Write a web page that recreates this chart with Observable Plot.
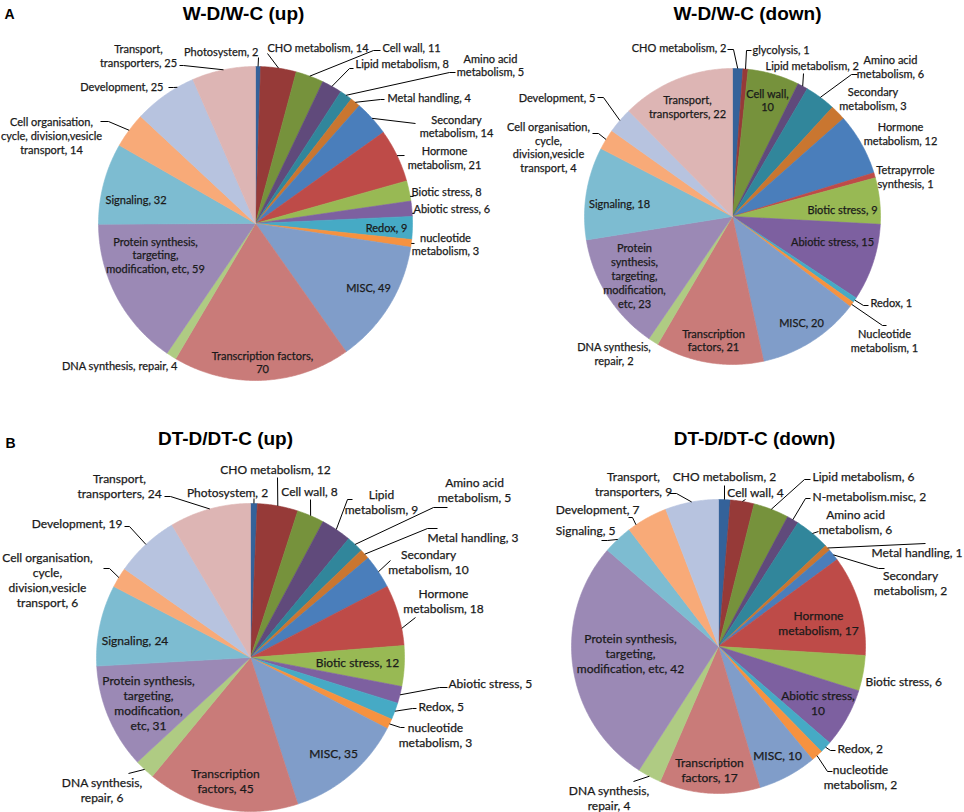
<!DOCTYPE html>
<html><head><meta charset="utf-8">
<script src="https://cdn.jsdelivr.net/npm/d3@7"></script>
<script src="https://cdn.jsdelivr.net/npm/@observablehq/plot@0.6"></script>
<style>
body{margin:0;background:#fff}
#fig{position:relative;width:964px;height:812px;overflow:hidden;background:#fff}
#fig svg{position:absolute;left:0;top:0}
</style></head><body><div id="fig"></div>
<script>
// ---------- data ----------
const palette = ["#34629A","#963A38","#76923C","#604A7B","#31869B","#C97630",
  "#4A7EBB","#BE4B48","#98B954","#7D60A0","#46AAC5","#F69240",
  "#809DC9","#C97B79","#AFCB83","#9B89B5","#7DBCD1","#F8AA78","#B7C3DF","#DDB5B4"];

const categoriesWUp = ["Photosystem","CHO metabolism","Cell wall","Lipid metabolism","Amino acid metabolism","Metal handling","Secondary metabolism","Hormone metabolism","Biotic stress","Abiotic stress","Redox","nucleotide metabolism","MISC","Transcription factors","DNA synthesis, repair","Protein synthesis, targeting, modification, etc","Signaling","Cell organisation, cycle, division,vesicle transport","Development","Transport, transporters"];
const valuesWUp = [2,14,11,8,5,4,14,21,8,6,9,3,49,70,4,59,32,14,25,25];

const categoriesWDown = ["CHO metabolism","glycolysis","Cell wall","Lipid metabolism","Amino acid metabolism","Secondary metabolism","Hormone metabolism","Tetrapyrrole synthesis","Biotic stress","Abiotic stress","Redox","Nucleotide metabolism","MISC","Transcription factors","DNA synthesis, repair","Protein synthesis, targeting, modification, etc","Signaling","Cell organisation, cycle, division,vesicle transport","Development","Transport, transporters"];
const valuesWDown = [2,1,10,2,6,3,12,1,9,15,1,1,20,21,2,23,18,4,5,22];

const categoriesDTUp = ["Photosystem","CHO metabolism","Cell wall","Lipid metabolism","Amino acid metabolism","Metal handling","Secondary metabolism","Hormone metabolism","Biotic stress","Abiotic stress","Redox","nucleotide metabolism","MISC","Transcription factors","DNA synthesis, repair","Protein synthesis, targeting, modification, etc","Signaling","Cell organisation, cycle, division,vesicle transport","Development","Transport, transporters"];
const valuesDTUp = [2,12,8,9,5,3,10,18,12,5,5,3,35,45,6,31,24,6,19,24];

const categoriesDTDown = ["CHO metabolism","Cell wall","Lipid metabolism","N-metabolism.misc","Amino acid metabolism","Metal handling","Secondary metabolism","Hormone metabolism","Biotic stress","Abiotic stress","Redox","nucleotide metabolism","MISC","Transcription factors","DNA synthesis, repair","Protein synthesis, targeting, modification, etc","Signaling","Development","Transport, transporters"];
const valuesDTDown = [2,4,6,2,6,1,2,17,6,10,2,2,10,17,4,42,5,7,9];

const titles = ["W-D/W-C (up)","W-D/W-C (down)","DT-D/DT-C (up)","DT-D/DT-C (down)"];
const panelLetters = ["A","B"];

// ---------- layout (label placement, px) ----------
// [anchor, x, y, words per line, leader [attachX, attachY, tail, fraction]]
const layoutWUp = [
  ["end",258,51,[2],[258,57,0]],
  ["start",267,47,[3],[267,53,0]],
  ["start",382,47,[3],[380,50,-7]],
  ["start",355,63,[3],[353,68,-4]],
  ["middle",490,64.5,[2,2],[455,72,-6]],
  ["start",387,97,[3],[384,99,-4]],
  ["middle",456,125.5,[1,2],[415,123,0]],
  ["middle",444,157,[1,2],[404,155,0]],
  ["start",411,191,[3],[413,196,0,0.77]],
  ["start",413,208,[3],[414,213,0,0.8]],
  ["middle",386,227,[2],null],
  ["middle",445,243.5,[1,2],[414,243,0]],
  ["middle",368,287,[2],null],
  ["middle",262,361.5,[2,1],null],
  ["end",177,365,[4],null],
  ["middle",155,254.5,[2,1,3],null],
  ["middle",135.5,199,[2],null],
  ["middle",51,135,[2,2,2],[100,121,8]],
  ["end",163,86,[2],[168,87,5,0.73]],
  ["middle",138,55,[1,2],[179,65,4]]
];
const layoutWDown = [
  ["end",726,47,[3],[727,49,6]],
  ["start",752,49,[2],[751,50,-5]],
  ["middle",767,99.5,[2,1],null],
  ["start",765,65,[3],[803,73,0]],
  ["middle",890,66,[2,2],[857,74,-6]],
  ["middle",872.5,98,[1,2],null],
  ["middle",900,133,[1,2],null],
  ["middle",905,176,[1,2],null],
  ["middle",842,209,[3],null],
  ["middle",832,241,[3],null],
  ["start",870,302,[2],[868,305,-5]],
  ["middle",884,340,[1,2],[886,325,-4]],
  ["middle",801,322,[2],null],
  ["middle",713,339.5,[1,2],null],
  ["middle",613.5,353,[2,2],null],
  ["middle",634,275,[1,1,1,1,2],null],
  ["middle",619,203,[2],null],
  ["middle",548,146.5,[2,1,1,2],[592,133,6]],
  ["end",595,97,[2],[597,97,6]],
  ["middle",687,106,[1,2],null]
];
const layoutDTUp = [
  ["middle",227,492,[2],[253.5,498,0]],
  ["middle",275,469,[3],[277,477,0]],
  ["middle",309,491,[3],[310,499,0]],
  ["middle",381,501.5,[1,2],[352,499,-5]],
  ["middle",474,489.5,[2,2],[447,507,-14]],
  ["start",427,537,[3],[437,528,-10]],
  ["middle",428,561.5,[1,2],[390,560,0]],
  ["middle",443,600.5,[1,2],[415,617,0,0.72]],
  ["middle",357,662,[3],null],
  ["start",448,683,[3],[447,687,-8]],
  ["start",418,706,[2],[416,708,-4]],
  ["middle",435,734.5,[1,2],[404,727,-4]],
  ["middle",333,753,[2],null],
  ["middle",225,780.5,[1,2],null],
  ["middle",101.5,789.5,[2,2],[128,773,0]],
  ["middle",148,702,[2,1,1,2],null],
  ["middle",134.5,640,[2],null],
  ["middle",47,579,[2,1,1,2],[103,568,6]],
  ["end",122,523,[2],[124,526,5]],
  ["middle",119,485.5,[1,2],[164,496,6]]
];
const layoutDTDown = [
  ["middle",724,476,[3],[724,485,0]],
  ["middle",755,492,[3],[745,499,0]],
  ["start",812,476,[3],[810,479,-6]],
  ["start",812,496,[2],[810,498,-5]],
  ["middle",855,521.5,[2,2],[818,531,0]],
  ["end",962,552,[3],[925,543,0]],
  ["middle",910,582.5,[1,2],[884,568,-6]],
  ["middle",818,622,[1,2],null],
  ["start",865,681,[3],null],
  ["middle",817.5,702,[2,1],null],
  ["start",837,748,[2],[835,750,-5]],
  ["middle",860,776,[1,2],[832,771,-5]],
  ["middle",777,755,[2],null],
  ["middle",709,769.5,[1,2],null],
  ["middle",608.5,797,[2,2],[633,781,0]],
  ["middle",630,652.5,[2,1,3],null],
  ["end",615,530,[2],[601,540,6]],
  ["end",639,509,[2],[628,517,4,0.2]],
  ["middle",633,483.5,[1,2],[669,493,7]]
];

const pies = [
  {categories: categoriesWUp, values: valuesWUp, layout: layoutWUp, cx:255, cy:223, r:157, fontSize:11, title:[243,13], letter:[4,14,0]},
  {categories: categoriesWDown, values: valuesWDown, layout: layoutWDown, cx:732, cy:216, r:148, fontSize:11, title:[747,13]},
  {categories: categoriesDTUp, values: valuesDTUp, layout: layoutDTUp, cx:250, cy:657, r:154, fontSize:12, title:[225,438], letter:[5,443,1]},
  {categories: categoriesDTDown, values: valuesDTDown, layout: layoutDTDown, cx:718, cy:646, r:147, fontSize:12, title:[754,438]}
];

const W = 964, H = 812;
const fig = document.getElementById("fig");

pies.forEach((p, pi) => {
  const toX = px => (px - p.cx) / p.r;
  const toY = py => (p.cy - py) / p.r;
  const arcs = d3.pie().sort(null).value(d => d)(p.values);

  // slice polygons in unit-circle coordinates
  const slicePts = [];
  arcs.forEach((a, i) => {
    slicePts.push({i, x: 0, y: 0});
    const n = Math.max(2, Math.ceil((a.endAngle - a.startAngle) / 0.01));
    for (let k = 0; k <= n; k++) {
      const t = a.startAngle + (a.endAngle - a.startAngle) * k / n;
      slicePts.push({i, x: Math.sin(t), y: Math.cos(t)});
    }
    slicePts.push({i, x: 0, y: 0});
  });

  const labels = [], leaders = [];
  p.layout.forEach(([anchor, tx, ty, wrap, leader], i) => {
    const words = `${p.categories[i]}, ${p.values[i]}`.split(" ");
    const lines = []; let k = 0;
    wrap.forEach((n, j) => {
      const take = j === wrap.length - 1 ? words.length - k : n;
      lines.push(words.slice(k, k + take).join(" ")); k += take;
    });
    labels.push({anchor, x: toX(tx), y: toY(ty), text: lines.join("\n")});
    if (leader) {
      const [ax, ay, tail, f = 0.5] = leader;
      const a = arcs[i];
      const t = a.startAngle + f * (a.endAngle - a.startAngle);
      leaders.push({id: i, x: Math.sin(t), y: Math.cos(t)});
      if (tail) leaders.push({id: i, x: toX(ax + tail), y: toY(ay)});
      leaders.push({id: i, x: toX(ax), y: toY(ay)});
    }
  });

  const textOpts = a => ({
    filter: d => d.anchor === a, x: "x", y: "y", text: "text", textAnchor: a,
    lineAnchor: "middle", lineHeight: 1.27, fontSize: p.fontSize,
    fontFamily: "Lato, 'Open Sans', sans-serif", fill: "#1a1a1a",
    stroke: "#1a1a1a", strokeWidth: 0.25
  });

  const marks = [
    Plot.line(slicePts, {x: "x", y: "y", z: "i", fill: "i", stroke: "i", strokeWidth: 0.6, curve: "linear"}),
    Plot.line(leaders, {x: "x", y: "y", z: "id", stroke: "#000", strokeWidth: 1, curve: "linear", strokeLinecap: "butt", strokeLinejoin: "miter"}),
    Plot.text(labels, textOpts("start")),
    Plot.text(labels, textOpts("middle")),
    Plot.text(labels, textOpts("end")),
    Plot.text([titles[pi]], {x: () => toX(p.title[0]), y: () => toY(p.title[1]), text: d => d,
      fontSize: 19, fontWeight: "bold", fontFamily: "'Liberation Sans', Arial, sans-serif", fill: "#000", lineAnchor: "middle"})
  ];
  if (p.letter) {
    marks.push(Plot.text([panelLetters[p.letter[2]]], {x: () => toX(p.letter[0]), y: () => toY(p.letter[1]), text: d => d,
      textAnchor: "start", lineAnchor: "middle", fontSize: 14, fontWeight: "bold",
      fontFamily: "'Liberation Sans', Arial, sans-serif", fill: "#000"}));
  }

  const chart = Plot.plot({
    width: W, height: H, margin: 0,
    x: {domain: [toX(0), toX(W)], axis: null},
    y: {domain: [toY(H), toY(0)], axis: null},
    color: {type: "ordinal", domain: d3.range(palette.length), range: palette},
    style: {background: "transparent", overflow: "visible"},
    marks
  });
  fig.appendChild(chart);
});
</script></body></html>
